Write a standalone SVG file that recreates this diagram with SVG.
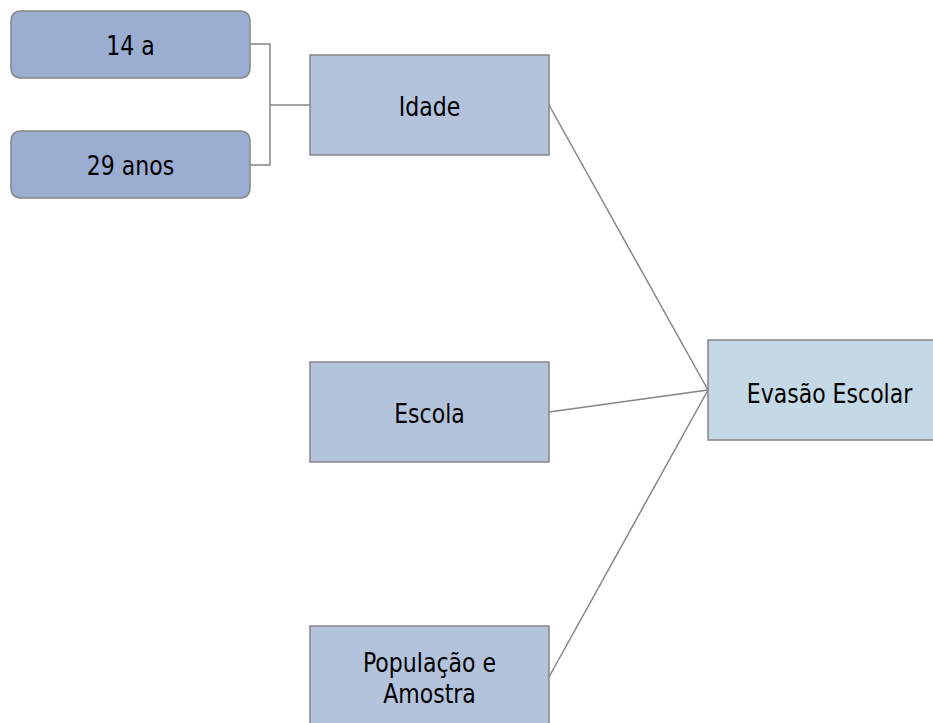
<svg xmlns="http://www.w3.org/2000/svg" width="933" height="723" viewBox="0 0 933 723">
<style>
.t{font-family:"DejaVu Sans Condensed","DejaVu Sans",sans-serif;font-size:24.5px;fill:#000;text-anchor:middle}
.b{stroke:#858585;stroke-width:1.5}
.c{stroke:#858585;stroke-width:1.5;fill:none}
</style>
<rect width="933" height="723" fill="#fff"/>
<g id="connectors">
<path class="c" d="M250,44 H270 V165 H250 M270,105 H310"/>
<line class="c" x1="549" y1="105" x2="708" y2="390"/>
<line class="c" x1="549" y1="412" x2="708" y2="390"/>
<line class="c" x1="549" y1="677" x2="708" y2="390"/>
</g>
<g id="n14a"><rect class="b" x="11" y="11" width="239" height="67" rx="9" fill="#9baed1"/><text class="t" transform="translate(130.5,55) scale(1,1.12)">14 a</text></g>
<g id="n29"><rect class="b" x="11" y="131" width="239" height="67" rx="9" fill="#9baed1"/><text class="t" transform="translate(130.5,175) scale(1,1.12)">29 anos</text></g>
<g id="idade"><rect class="b" x="310" y="55" width="239" height="100" fill="#b4c3dc"/><text class="t" transform="translate(429.5,116) scale(1,1.12)">Idade</text></g>
<g id="escola"><rect class="b" x="310" y="362" width="239" height="100" fill="#b4c3dc"/><text class="t" transform="translate(429.5,423) scale(1,1.12)">Escola</text></g>
<g id="populacao"><rect class="b" x="310" y="626" width="239" height="110" fill="#b4c3dc"/><text class="t" transform="translate(429.5,672) scale(1,1.12)">População e</text><text class="t" transform="translate(429.5,703) scale(1,1.12)">Amostra</text></g>
<g id="evasao"><rect class="b" x="708" y="340" width="240" height="100" fill="#c5d8e6"/><text class="t" transform="translate(829.5,403) scale(1,1.12)">Evasão Escolar</text></g>
</svg>
